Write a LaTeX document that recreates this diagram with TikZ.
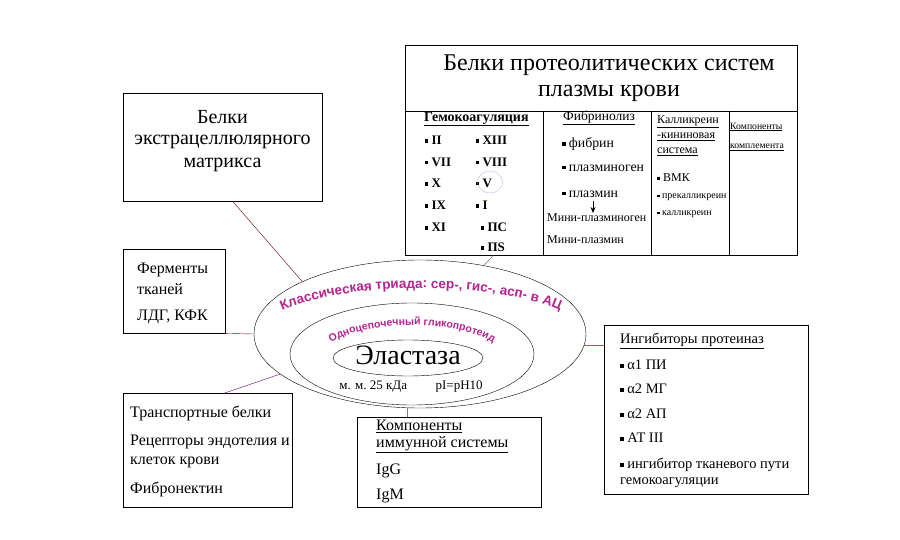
\documentclass[tikz,border=0pt]{standalone}
\usepackage{fontspec}
\setmainfont{Liberation Serif}
\setsansfont{Liberation Sans}
\usetikzlibrary{shapes.geometric, arrows.meta, positioning, calc, decorations.text}
\definecolor{triadcol}{HTML}{B4248F}
\newcommand{\fs}[1]{\fontsize{#1}{#1}\selectfont}
\newcommand{\sqbul}{\raisebox{0.28ex}{\rule{0.24em}{0.24em}}\ }

\begin{document}
\begin{tikzpicture}[
	x=1pt, y=-1pt,
	every node/.style={inner sep=0pt},
	frame/.style={draw=black, thin, anchor=north west},
	ring/.style={ellipse, draw=black, thin},
	txt/.style={anchor=west, align=left},
	link/.style={thin},
	arrow/.style={-{Stealth[length=6pt, width=5pt]}, thick}
]
\useasboundingbox (0,0) rectangle (900,540);

% Proteolytic systems of blood plasma
\node[frame, minimum width=392pt, minimum height=210pt] (plasma) at (405,45) {};
\draw (plasma.west |- 0,111) -- (plasma.east |- 0,111);
\foreach \cx in {543, 651, 729}
	\draw (\cx,111) -- (\cx,255);
\node[font=\fs{24}] (plasmaA) at (609,65) {Белки протеолитических систем};
\node[font=\fs{24}] (plasmaB) at (609,93) {плазмы крови};

% Hemocoagulation column
\node[txt, font=\fs{14}\bfseries] (hemo) at (424,119) {\underline{Гемокоагуляция}};
\foreach \fac/\yy [count=\i] in {II/140, VII/162, X/183, IX/205, XI/227}
	\node[txt, font=\fs{13}\bfseries] (facL\i) at (425,\yy) {\sqbul\fac};
\foreach \fac/\yy [count=\i] in {XIII/140, VIII/162, V/183, I/205}
	\node[txt, font=\fs{13}\bfseries] (facR\i) at (476,\yy) {\sqbul\fac};
\node[txt, font=\fs{13}\bfseries] (facR5) at (481,227) {\sqbul ПС};
\node[txt, font=\fs{13}\bfseries] (facR6) at (481,247) {\sqbul ПS};
\node[ellipse, draw=gray!60!blue!60, very thin, minimum width=25pt, minimum height=22pt] (markV) at (490,182) {};

% Fibrinolysis column
\node[txt, font=\fs{13.5}] (fibr) at (563,118) {\underline{Фибринолиз}};
\node[txt, font=\fs{13.8}] (fibrA) at (562,144) {\sqbul фибрин};
\node[txt, font=\fs{13.8}] (fibrB) at (562,168) {\sqbul плазминоген};
\node[txt, font=\fs{13.8}] (fibrC) at (562,194) {\sqbul плазмин};
\node[txt, font=\fs{12}] (fibrD) at (547,218) {Мини-плазминоген};
\node[txt, font=\fs{12}] (fibrE) at (547,240) {Мини-плазмин};
\draw[arrow] (593,201) -- (593,213);

% Kallikrein-kinin column
\node[txt, font=\fs{12}] (kalA) at (657,122) {\underline{Калликреин}};
\node[txt, font=\fs{12}] (kalB) at (657,137) {\underline{-кининовая}};
\node[txt, font=\fs{12}] (kalC) at (657,152) {\underline{система}};
\node[txt, font=\fs{12}] (kalD) at (657,178) {\sqbul ВМК};
\node[txt, font=\fs{10}] (kalE) at (657,197) {\sqbul прекалликреин};
\node[txt, font=\fs{10}] (kalF) at (657,214) {\sqbul калликреин};

% Complement column
\node[txt, font=\fs{9.7}] (compA) at (730,127) {\underline{Компоненты}};
\node[txt, font=\fs{9.7}] (compB) at (730,147) {\underline{комплемента}};

% Extracellular matrix
\node[frame, minimum width=199pt, minimum height=108pt] (matrix) at (123,93) {};
\node[align=center, font=\fs{20}] (matrixT) at (222.5,117) {Белки};
\node[align=center, font=\fs{20}] (matrixU) at (222.5,142) {экстрацеллюлярного};
\node[align=center, font=\fs{20}] (matrixV) at (222.5,165) {матрикса};

% Tissue enzymes
\node[frame, minimum width=102pt, minimum height=84pt] (enzymes) at (123,249) {};
\node[txt, font=\fs{16}] (enzA) at (137,270) {Ферменты};
\node[txt, font=\fs{16}] (enzB) at (137,289) {тканей};
\node[txt, font=\fs{16}] (enzC) at (137,317) {ЛДГ, КФК};

% Transport proteins
\node[frame, minimum width=169pt, minimum height=114pt] (transport) at (123,393) {};
\node[txt, font=\fs{16}] (trA) at (130,413) {Транспортные белки};
\node[txt, font=\fs{16}] (trB) at (130,442) {Рецепторы эндотелия и};
\node[txt, font=\fs{16}] (trC) at (130,462) {клеток крови};
\node[txt, font=\fs{16}] (trD) at (130,489) {Фибронектин};

% Immune system
\node[frame, minimum width=184pt, minimum height=90pt] (immune) at (357,417) {};
\node[txt, font=\fs{16}] (imA) at (376,426) {\underline{Компоненты}};
\node[txt, font=\fs{16}] (imB) at (376,445) {\underline{иммунной системы}};
\node[txt, font=\fs{16}] (imC) at (376,471) {IgG};
\node[txt, font=\fs{16}] (imD) at (376,496) {IgM};

% Proteinase inhibitors
\node[frame, minimum width=204pt, minimum height=169pt] (inhib) at (604,325) {};
\node[txt, font=\fs{14.5}] (inA) at (620,341) {\underline{Ингибиторы протеиназ}};
\node[txt, font=\fs{14.5}] (inB) at (620,365) {\sqbul α1 ПИ};
\node[txt, font=\fs{14.5}] (inC) at (620,389) {\sqbul α2 МГ};
\node[txt, font=\fs{14.5}] (inD) at (620,414) {\sqbul α2 АП};
\node[txt, font=\fs{14.5}] (inE) at (620,438) {\sqbul АТ III};
\node[txt, font=\fs{14.5}] (inF) at (620,465) {\sqbul ингибитор тканевого пути};
\node[txt, font=\fs{14.5}] (inG) at (620,483) {гемокоагуляции};

% Elastase rings
\node[ring, minimum width=332pt, minimum height=148pt] (outer) at (420,334) {};
\node[ring, minimum width=244pt, minimum height=102pt] (middle) at (412,354) {};
\node[ring, minimum width=150pt, minimum height=36pt] (inner) at (408,358) {};
\node[font=\fs{28}] (elast) at (408,355) {Эластаза};
\node[font=\fs{13}] (mass) at (411,387) {м. м.\ 25 кДа\hspace{2.2em}pI=pH10};
\path[decorate, decoration={text along path, text align=center,
	text={|\sffamily\bfseries\fs{13.5}\color{triadcol}|Классическая триада: сер-, гис-, асп- в АЦ}}]
	(421,346) ++(211:176 and 58) arc (211:329:176 and 58);
\path[decorate, decoration={text along path, text align=center,
	text={|\sffamily\bfseries\fs{10.5}\color{triadcol}|Одноцепочечный гликопротеид}}]
	(412,365) ++(208:98 and 40) arc (208:332:98 and 40);

% Connectors
\draw[link, draw=red!40!black] ([xshift=10pt]matrix.south) -- (outer.156);
\draw[link, draw=red!50!black] (enzymes.south east) -- (outer.west);
\draw[link, draw=violet!80!black] ([xshift=17pt]transport.north) -- (outer.196);
\draw[link, draw=gray!70!black] ([xshift=-108pt]plasma.south) -- (outer.47);
\draw[link, draw=brown!80!black] (outer.-4) -- (outer.-4 -| inhib.west);
\draw[link, draw=gray] (outer.260) -- (outer.260 |- immune.north);

\end{tikzpicture}
\end{document}
